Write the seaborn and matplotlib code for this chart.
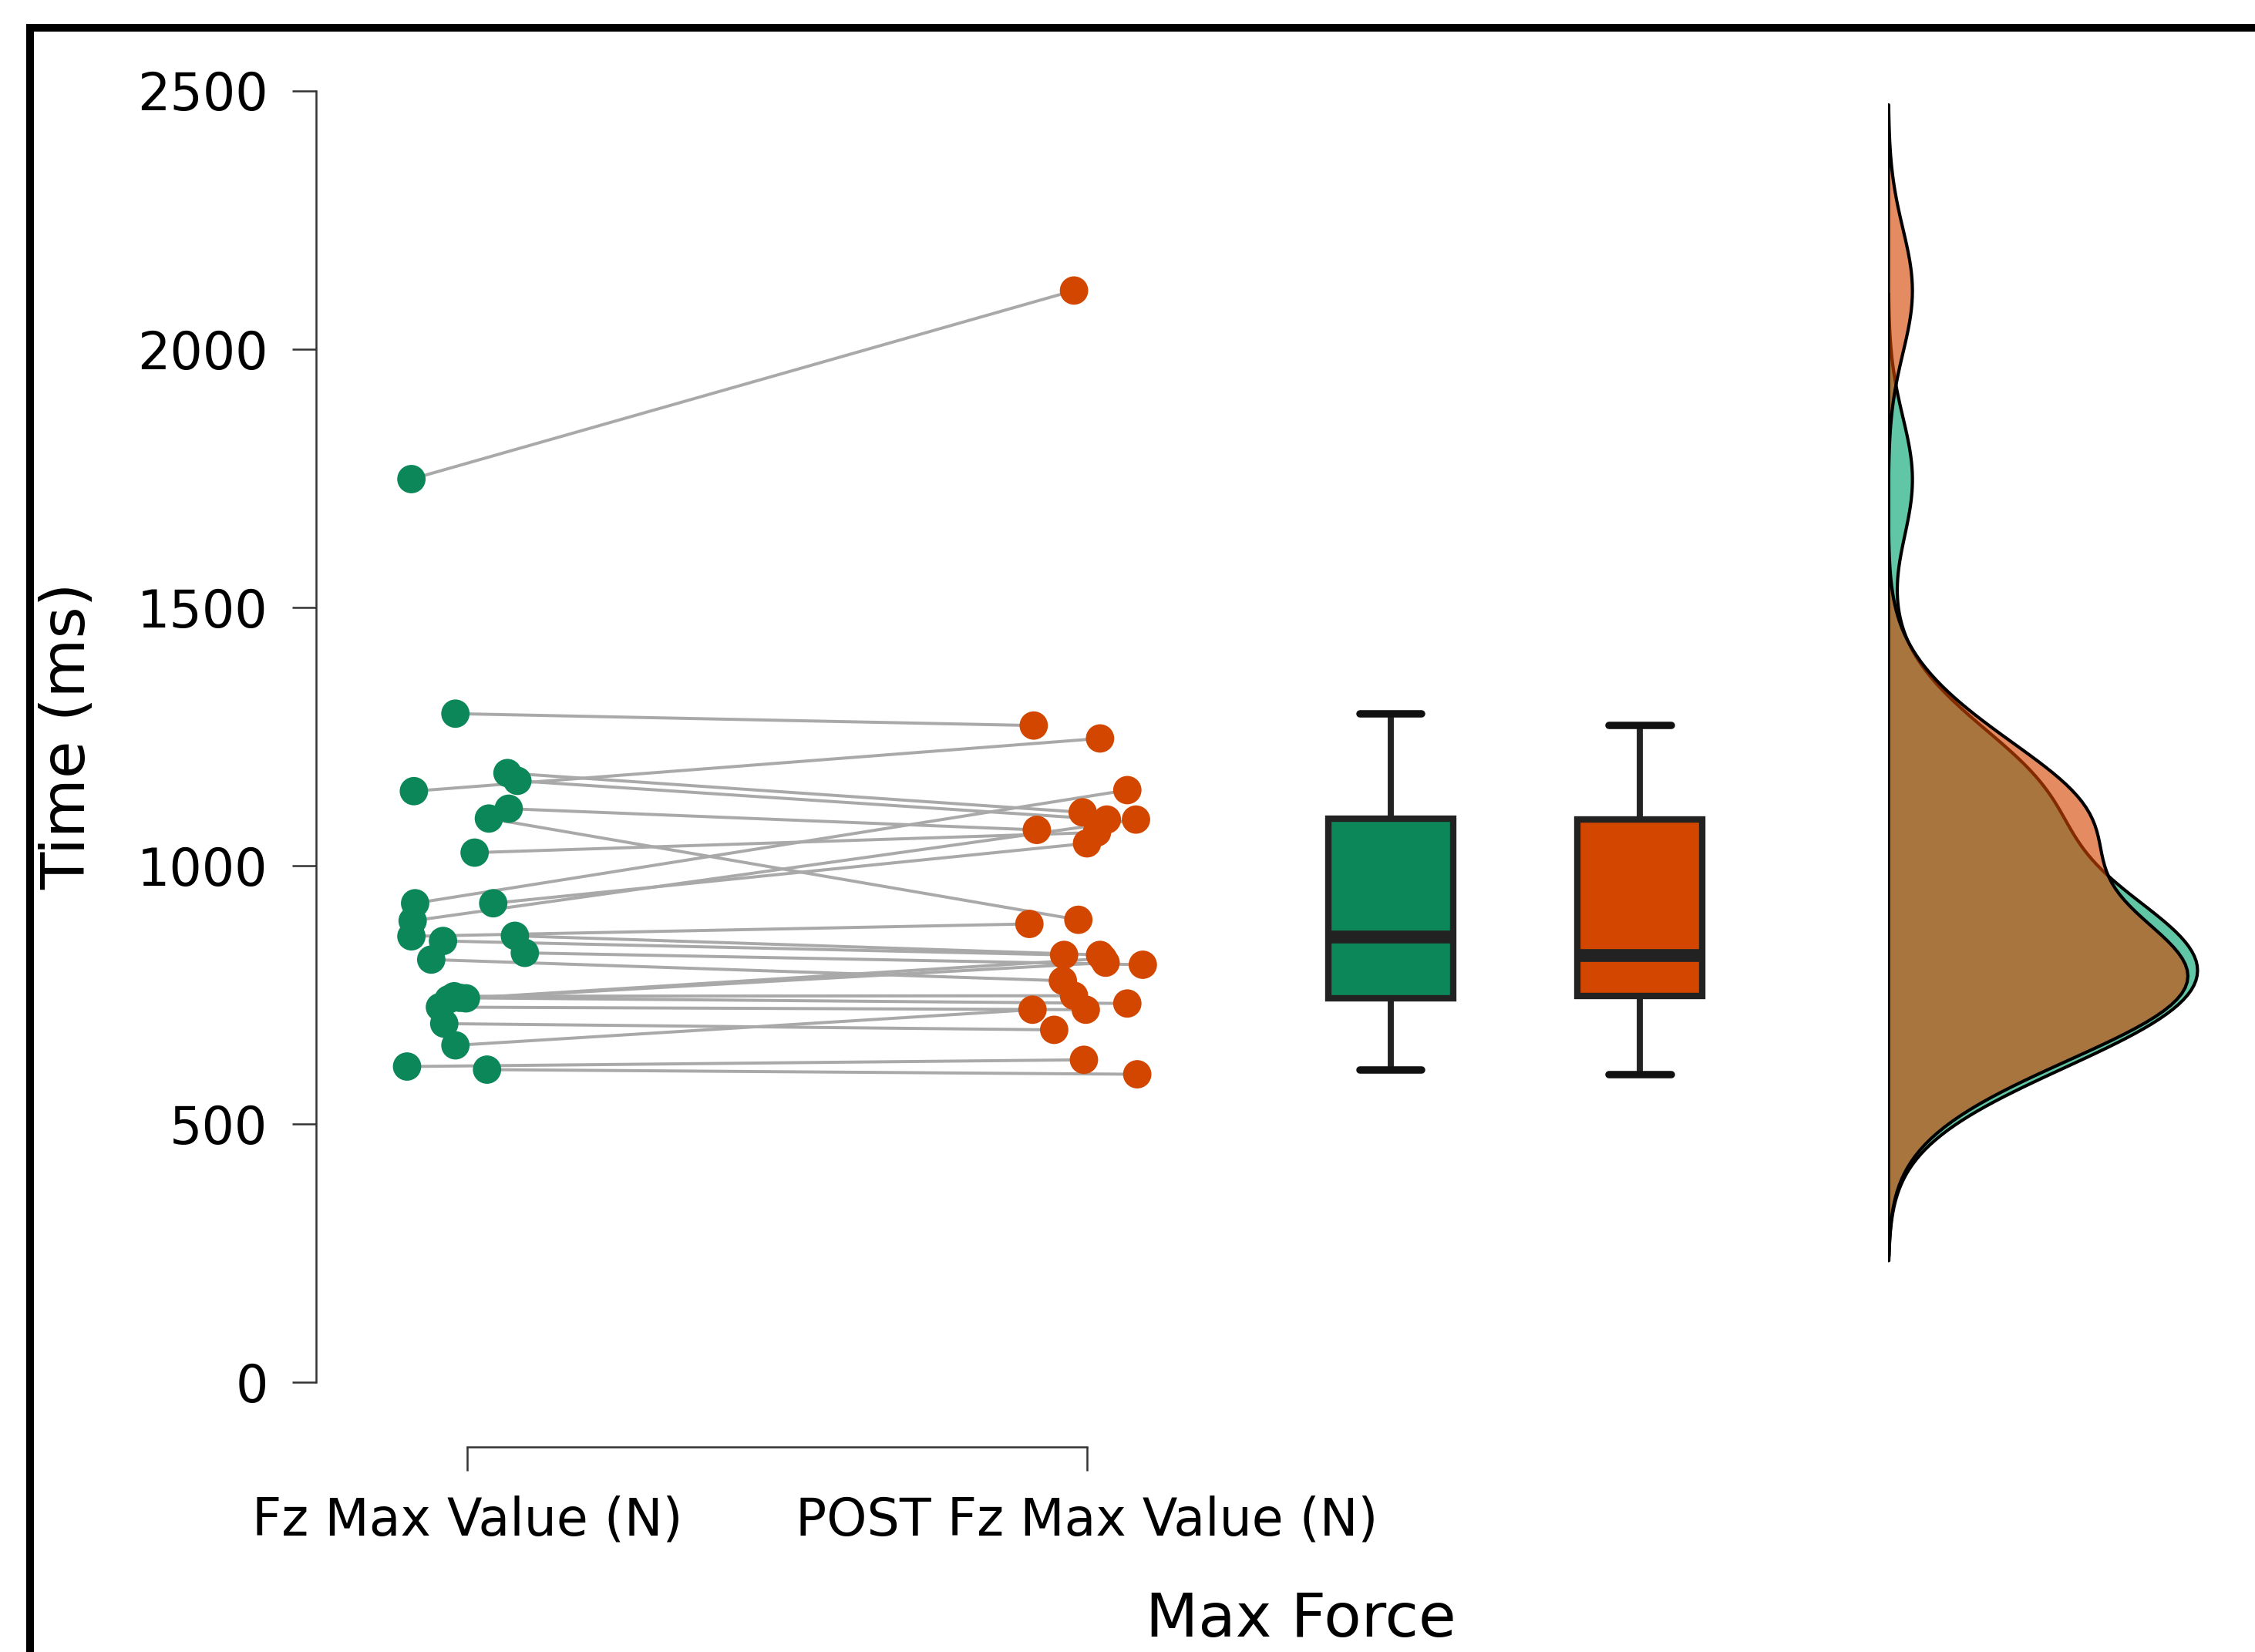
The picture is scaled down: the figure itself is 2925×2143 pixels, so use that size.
import numpy as np
import pandas as pd
import matplotlib
matplotlib.use("Agg")
import matplotlib.pyplot as plt
from matplotlib.lines import Line2D
import seaborn as sns

# ---------------- data ----------------
conditions = ["Fz Max Value (N)", "POST Fz Max Value (N)"]
pre_values = [1748, 1294, 1144, 1179, 1164, 1110, 1091, 1025, 927, 927,
              893, 863, 854, 864, 831, 818, 747, 743, 744, 741,
              726, 694, 652, 611, 605]
post_values = [2113, 1271, 1246, 1103, 1089, 1069, 895, 1064, 1146, 1043,
               1089, 887, 827, 827, 808, 777, 748, 812, 733, 820,
               721, 682, 721, 624, 596]
# horizontal jitter of each point around its category, as seen in the picture
pre_jitter = [-0.090, -0.019, -0.086, 0.065, 0.081, 0.067, 0.035, 0.012, -0.084, 0.042,
              -0.088, -0.090, -0.039, 0.077, 0.093, -0.058, -0.021, -0.002, -0.012, -0.030,
              -0.044, -0.037, -0.019, -0.097, 0.032]
post_jitter = [-0.021, -0.086, 0.021, -0.007, 0.032, -0.081, -0.014, 0.016, 0.065, 0.000,
               0.079, -0.093, -0.037, 0.021, 0.090, -0.039, -0.021, 0.030, 0.065, 0.026,
               -0.002, -0.053, -0.088, -0.005, 0.081]
y_ticks = [0, 500, 1000, 1500, 2000, 2500]
x_title = "Max Force"
y_title = "Time (ms)"

# ---------------- style ----------------
GREEN = "#0C875A"
ORANGE = "#D24600"
CLOUD_GREEN = "#00A46E"
CLOUD_ORANGE = "#D44400"
LINE_GREY = "#a9a9a9"
BOX_EDGE = "#222222"
BANDWIDTH = 120.0

sns.set_theme(style="ticks")
plt.rcParams["font.family"] = ["DejaVu Sans"]

W, H, DPI = 2925, 2143, 300
fig = plt.figure(figsize=(W / DPI, H / DPI), dpi=DPI)
fig.patch.set_facecolor("white")


def fx(px):
    return px / W


def fy(py):
    return 1 - py / H


ax_left, ax_right = 410, 2900
ax_top, ax_bottom = 117.5, 1793
ax = fig.add_axes([fx(ax_left), fy(ax_bottom),
                   (ax_right - ax_left) / W, (ax_bottom - ax_top) / H])
ax.set_facecolor("none")

n = len(pre_values)
df = pd.DataFrame({
    "subject": np.tile(np.arange(n), 2),
    "condition": np.repeat(conditions, n),
    "value": pre_values + post_values,
    "jitter": pre_jitter + post_jitter,
})
df["cat"] = df["condition"].map({c: i for i, c in enumerate(conditions)})
df["x"] = df["cat"] + df["jitter"]
box_pos = {conditions[0]: 1.49, conditions[1]: 1.892}
df["box_x"] = df["condition"].map(box_pos)

# paired lines
sns.lineplot(data=df, x="x", y="value", units="subject", estimator=None,
             color=LINE_GREY, linewidth=0.95, ax=ax, zorder=1, legend=False)

# points
sns.scatterplot(data=df, x="x", y="value", hue="condition",
                palette=[GREEN, ORANGE], s=78, linewidth=0, ax=ax,
                zorder=3, legend=False)

# box plots
sns.boxplot(data=df, x="box_x", y="value", hue="condition",
            palette=[GREEN, ORANGE], native_scale=True, dodge=False,
            width=0.5, showfliers=False, linewidth=2.0, linecolor=BOX_EDGE,
            saturation=1, legend=False, ax=ax,
            medianprops=dict(linewidth=4.0, color=BOX_EDGE),
            capprops=dict(linewidth=2.3, color="#111111"),
            whiskerprops=dict(linewidth=1.9, color=BOX_EDGE))

# ---------------- clouds (half densities) ----------------
cloud_left = 2449
cloud_peak = 2850
ax2 = fig.add_axes([fx(cloud_left), fy(ax_bottom),
                    (W - cloud_left) / W, (ax_bottom - ax_top) / H], sharey=ax)
ax2.set_facecolor("none")
for vals, col in [(pre_values, CLOUD_GREEN), (post_values, CLOUD_ORANGE)]:
    bw = BANDWIDTH / np.std(vals, ddof=1)
    sns.kdeplot(y=vals, ax=ax2, fill=True, bw_method=bw, cut=3,
                color=col, alpha=0.62, edgecolor="black", linewidth=1.0)
dmax = ax2.dataLim.x1
ax2.set_xlim(0, dmax * (W - cloud_left) / (cloud_peak - cloud_left))
ax2.axis("off")

# ---------------- axes cosmetics ----------------
ax.set_ylim(y_ticks[0], y_ticks[-1])
ax.set_xlim((ax_left - 606) / 804, (ax_right - 606) / 804)
ax.set_yticks(y_ticks)
ax.set_yticklabels([str(t) for t in y_ticks])
ax.set_xticks(range(len(conditions)))
ax.set_xticklabels(conditions)

for side in ["top", "right"]:
    ax.spines[side].set_visible(False)
for side in ["left", "bottom"]:
    ax.spines[side].set_linewidth(0.6)
    ax.spines[side].set_color("#333333")
ax.spines["left"].set_bounds(y_ticks[0], y_ticks[-1])
ax.spines["bottom"].set_bounds(0, len(conditions) - 1)
ax.spines["bottom"].set_position(("outward", 20.1))

ax.tick_params(axis="both", which="major", labelsize=16, length=7.5,
               width=0.6, color="#333333", pad=7.5, labelcolor="black")

ax.set_xlabel(x_title, fontsize=19, color="black")
ax.set_ylabel(y_title, fontsize=19, color="black")
ax.xaxis.set_label_coords(0.513, -0.161)
ax.yaxis.set_label_coords(-0.114, 0.5)
ax.grid(False)

# ---------------- frame (top and left edges of the figure border) ----------------
border_lw = 10 * 72 / DPI
fig.add_artist(Line2D([fx(34), 1.0], [fy(36), fy(36)], color="black",
                      lw=border_lw, transform=fig.transFigure,
                      solid_capstyle="butt"))
fig.add_artist(Line2D([fx(39), fx(39)], [0.0, fy(31)], color="black",
                      lw=border_lw, transform=fig.transFigure,
                      solid_capstyle="butt"))

fig.savefig("out.png", dpi=DPI, facecolor="white")
